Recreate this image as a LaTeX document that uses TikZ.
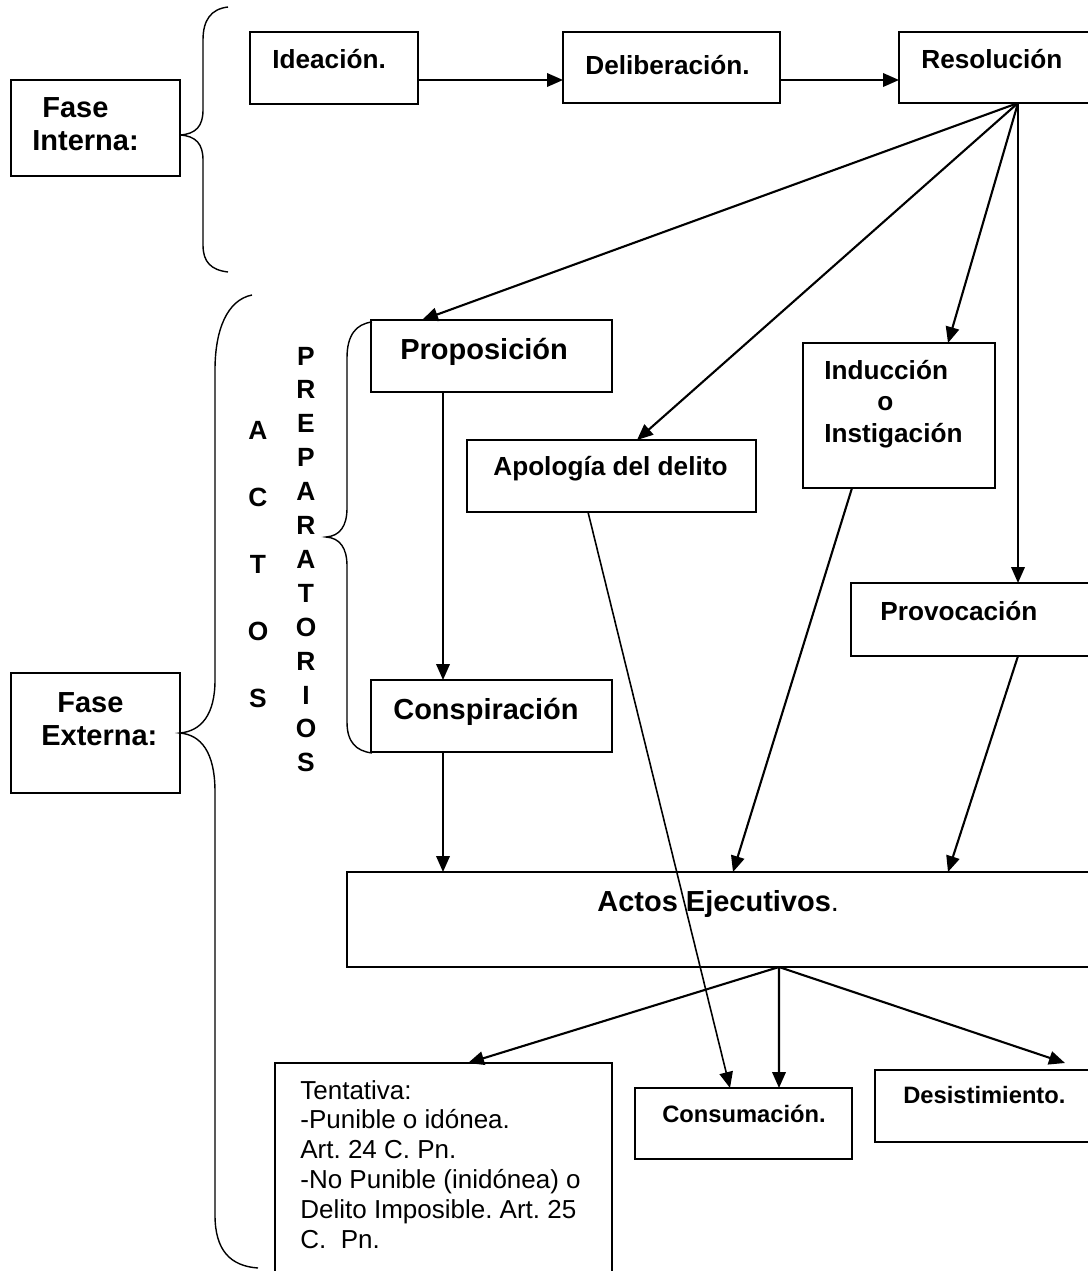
\documentclass[tikz,border=0pt]{standalone}
\usepackage{fontspec}
\setmainfont{Liberation Sans}
\usetikzlibrary{arrows.meta,calc,fit}
\frenchspacing

\tikzset{
  caja/.style={draw, line width=1pt, inner sep=0pt, outer sep=0pt},
  rotulo/.style={inner sep=0pt, anchor=base west, font=\fontsize{14.9}{17.6}\selectfont\bfseries},
  rotulogrande/.style={rotulo, font=\fontsize{16.5}{19}\selectfont\bfseries},
  rotulochico/.style={rotulo, font=\fontsize{13.5}{16}\selectfont\bfseries},
  nota/.style={inner sep=0pt, anchor=base west, font=\fontsize{14.8}{15}\selectfont},
  letra/.style={inner sep=0pt, anchor=base, font=\fontsize{15}{17}\selectfont\bfseries},
  flecha/.style={line width=1.2pt, -{Triangle[length=0.32cm, width=0.27cm]}},
  llave/.style={line width=0.8pt}
}

\begin{document}
\begin{tikzpicture}[x=0.02cm, y=-0.02cm]
\useasboundingbox (0,0) rectangle (1088,1271);
\clip (0,0) rectangle (1088,1271);

% cajas
\node[caja, fit={(11,80) (180,176)}] (finterna) {}; % Fase Interna
\node[caja, fit={(11,673) (180,793)}] (fexterna) {}; % Fase Externa
\node[caja, fit={(250,32) (418,104)}] (ideacion) {}; % Ideacion
\node[caja, fit={(563,32) (780,103)}] (deliberacion) {}; % Deliberacion
\node[caja, fit={(899,32) (1137,103)}] (resolucion) {}; % Resolucion
\node[caja, fit={(371,320) (612,392)}] (proposicion) {}; % Proposicion
\node[caja, fit={(371,680) (612,752)}] (conspiracion) {}; % Conspiracion
\node[caja, fit={(467,440) (756,512)}] (apologia) {}; % Apologia
\node[caja, fit={(803,343) (995,488)}] (induccion) {}; % Induccion
\node[caja, fit={(851,583) (1185,656)}] (provocacion) {}; % Provocacion
\node[caja, fit={(347,872) (1211,967)}] (actos) {}; % Actos Ejecutivos
\node[caja, fit={(275,1063) (612,1320)}] (tentativa) {}; % Tentativa
\node[caja, fit={(635,1088) (852,1159)}] (consumacion) {}; % Consumacion
\node[caja, fit={(875,1070) (1255,1142)}] (desistimiento) {}; % Desistimiento

% textos
\node[rotulogrande] (fi-1) at (42,117) {Fase}; % finterna
\node[rotulogrande] (fi-2) at (32,150) {Interna:}; % finterna
\node[rotulogrande] (fe-1) at (57,712) {Fase}; % fexterna
\node[rotulogrande] (fe-2) at (41,745) {Externa:}; % fexterna
\node[rotulo] (ideacion-t) at (272,68) {Ideación.}; % ideacion
\node[rotulo] (deliberacion-t) at (585,74) {Deliberación.}; % deliberacion
\node[rotulo] (resolucion-t) at (921,68) {Resolución}; % resolucion
\node[rotulogrande] (proposicion-t) at (400,359) {Proposición}; % proposicion
\node[rotulogrande] (conspiracion-t) at (393,719) {Conspiración}; % conspiracion
\node[rotulo] (apologia-t) at (493,475) {Apología del delito}; % apologia
\node[rotulo] (induccion-1) at (824,379) {Inducción}; % induccion
\node[rotulo] (induccion-2) at (877,410) {o}; % induccion
\node[rotulo] (induccion-3) at (824,442) {Instigación}; % induccion
\node[rotulo] (provocacion-t) at (880,620) {Provocación}; % provocacion
\node[rotulogrande] (actos-t) at (597,911) {Actos Ejecutivos\mdseries.}; % actos
\node[rotulochico] (consumacion-t) at (662,1122) {Consumación.}; % consumacion
\node[rotulochico] (desistimiento-t) at (903,1103) {Desistimiento.}; % desistimiento
\foreach \linea [count=\i from 0] in {Tentativa:, -Punible o idónea., Art. 24 C. Pn.,
    -No Punible (inidónea) o, Delito Imposible. Art. 25, C.~~Pn.}
  \node[nota] (tentativa-\i) at (300,1099+29.8*\i) {\linea}; % tentativa

% letras verticales
\foreach \l [count=\i from 0] in {A,C,T,O,S}
  \node[letra] (letra-a-\i) at (258,439+67.2*\i) {\l}; % ACTOS
\foreach \l [count=\i from 0] in {P,R,E,P,A,R,A,T,O,R,I,O,S}
  \node[letra] (letra-p-\i) at (306,365+33.9*\i) {\l}; % PREPARATORIOS

% llaves
\draw[llave] (228,7) .. controls (211,9) and (203,20) .. (203,40) -- (203,110)
  .. controls (203,126) and (196,134) .. (180,135) .. controls (196,136) and (203,144) .. (203,160)
  -- (203,245) .. controls (203,262) and (211,270) .. (228,272); % llave interna
\draw[llave] (252,295) .. controls (227,300) and (215,330) .. (215,370) -- (215,680)
  .. controls (215,715) and (201,731) .. (180,733) .. controls (201,735) and (215,752) .. (215,792)
  -- (215,1215) .. controls (215,1250) and (230,1266) .. (258,1268); % llave externa
\draw[llave] (372,322) .. controls (356,324) and (347,335) .. (347,358) -- (347,508)
  .. controls (347,526) and (340,536) .. (326,537) .. controls (340,538) and (347,548) .. (347,566)
  -- (347,722) .. controls (347,742) and (356,751) .. (372,753); % llave preparatorios

% flechas
\draw[flecha] ($(ideacion.east)+(0,12)$) -- ($(deliberacion.west)+(0,12.5)$);
\draw[flecha] ($(deliberacion.east)+(0,12.5)$) -- ($(resolucion.west)+(0,12.5)$);
\draw[flecha] (resolucion.south) -- ($(proposicion.north)+(-69.5,0)$);
\draw[flecha] (resolucion.south) -- ($(apologia.north)+(25.5,0)$);
\draw[flecha] (resolucion.south) -- ($(induccion.north)+(49,0)$);
\draw[flecha] (resolucion.south) -- (provocacion.north);
\draw[flecha] ($(proposicion.south)+(-48.5,0)$) -- ($(conspiracion.north)+(-48.5,0)$);
\draw[flecha] ($(conspiracion.south)+(-48.5,0)$) -- ($(actos.north)+(-336,0)$);
\draw[flecha] ($(induccion.south)+(-47,0)$) -- ($(actos.north)+(-46,0)$);
\draw[flecha] (provocacion.south) -- ($(actos.north)+(169,0)$);
\draw[flecha, line width=0.9pt] ($(apologia.south)+(-23.5,0)$) -- ($(consumacion.north)+(-13.5,0)$);
\draw[flecha] (actos.south) -- ($(tentativa.north)+(24.5,0)$);
\draw[flecha] (actos.south) -- ($(consumacion.north)+(35.5,0)$);
\draw[flecha] (actos.south) -- ($(desistimiento.north west)+(190,-7)$);

\end{tikzpicture}
\end{document}
